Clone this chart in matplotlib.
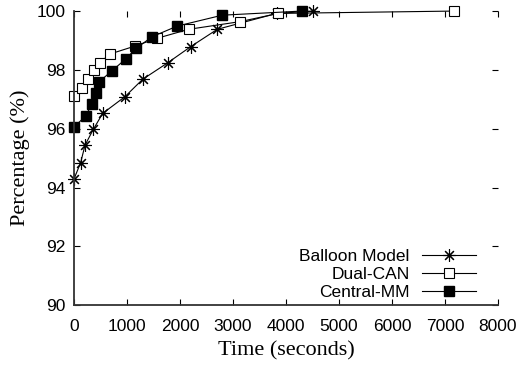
import matplotlib
matplotlib.use("Agg")
import matplotlib.pyplot as plt

# Balloon Model (asterisks)
balloon_time = [0, 126, 208, 365, 541, 962, 1296, 1768, 2202, 2704, 3824, 4503]
balloon_pct = [94.29, 94.85, 95.44, 95.98, 96.52, 97.09, 97.68, 98.24, 98.79, 99.38, 99.92, 100.0]

# Dual-CAN (open squares)
dual_time = [0, 145, 270, 385, 491, 679, 1151, 1560, 2164, 3132, 3855, 7170]
dual_pct = [97.12, 97.40, 97.69, 97.99, 98.25, 98.54, 98.81, 99.07, 99.38, 99.64, 99.92, 100.0]

# Central-MM (filled squares)
central_time = [0, 226, 332, 415, 477, 711, 975, 1170, 1477, 1949, 2798, 4296]
central_pct = [96.06, 96.44, 96.83, 97.20, 97.60, 97.96, 98.37, 98.73, 99.13, 99.49, 99.86, 100.0]

x_ticks = [0, 1000, 2000, 3000, 4000, 5000, 6000, 7000, 8000]
y_ticks = [90, 92, 94, 96, 98, 100]

SANS = ["Liberation Sans", "DejaVu Sans"]
SERIF = ["Liberation Serif", "DejaVu Serif"]

fig = plt.figure(figsize=(5.23, 3.69), dpi=100)
ax = fig.add_axes([0.1415, 0.173, 0.8105, 0.797])

ax.plot(balloon_time, balloon_pct, color="black", lw=0.8, clip_on=False,
        marker=(8, 2, 0), ms=9, mew=0.8, label="Balloon Model")
ax.plot(dual_time, dual_pct, color="black", lw=0.8, clip_on=False,
        marker="s", ms=7.5, mfc="white", mec="black", mew=0.8, label="Dual-CAN")
ax.plot(central_time, central_pct, color="black", lw=0.8, clip_on=False,
        marker="s", ms=7.5, mfc="black", mec="black", label="Central-MM")

ax.set_xlim(0, 8000)
ax.set_ylim(90, 100)
ax.set_xticks(x_ticks)
ax.set_yticks(y_ticks)
ax.tick_params(direction="in", length=4, width=0.8, top=True, right=True,
               labelsize=12.5, pad=6)
ax.tick_params(axis="x", pad=10)
for lab in ax.get_xticklabels() + ax.get_yticklabels():
    lab.set_family(SANS)

ax.spines["top"].set_visible(False)
ax.spines["right"].set_visible(False)
ax.spines["left"].set_linewidth(1.3)
ax.spines["bottom"].set_linewidth(1.3)
ax.spines["left"].set_color("#333333")
ax.spines["bottom"].set_color("#333333")

ax.set_xlabel("Time (seconds)", family=SERIF, fontsize=16, labelpad=5)
ax.set_ylabel("Percentage (%)", family=SERIF, fontsize=16, labelpad=5)

ax.legend(loc="lower right", bbox_to_anchor=(0.976, -0.024), frameon=False,
          markerfirst=False, prop={"family": SANS, "size": 12.5},
          handlelength=3.1, handletextpad=0.7, labelspacing=0.16,
          borderaxespad=0.3)

fig.savefig("out.png", dpi=100, facecolor="white")
